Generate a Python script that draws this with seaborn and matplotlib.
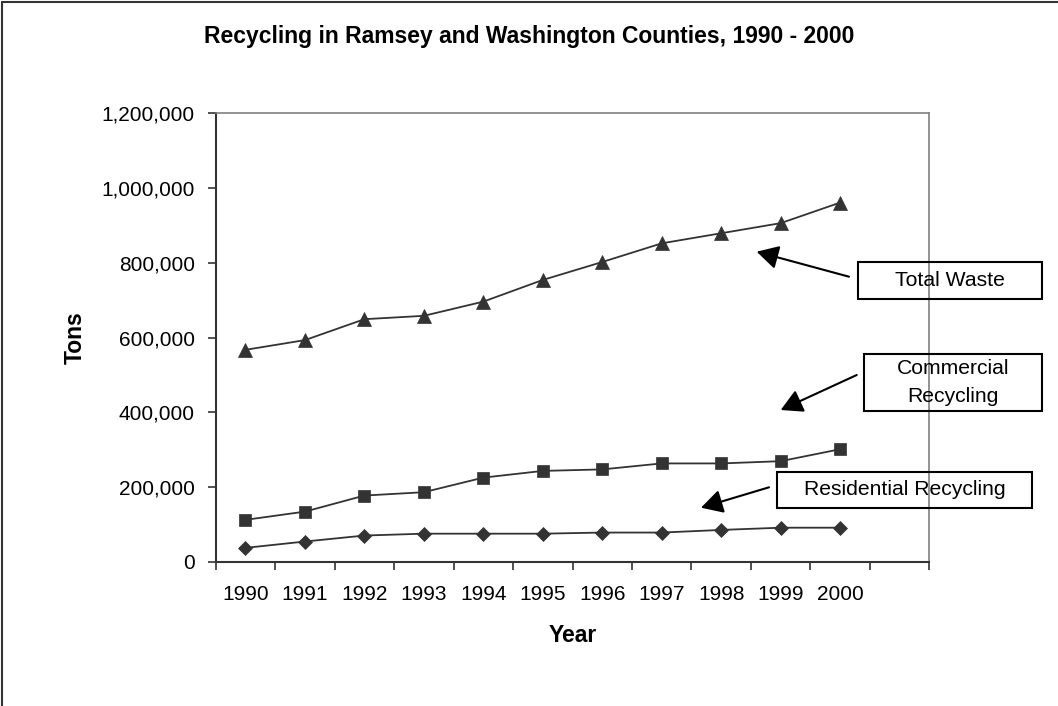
import matplotlib
matplotlib.use("Agg")
import matplotlib.pyplot as plt
import matplotlib.ticker as mticker
from matplotlib.patches import Rectangle
from matplotlib.lines import Line2D
import seaborn as sns
import pandas as pd

years = [1990, 1991, 1992, 1993, 1994, 1995, 1996, 1997, 1998, 1999, 2000]
total_waste = [567000, 593000, 649000, 658000, 696000, 754000, 802000, 852000, 879000, 906000, 961000]
commercial_recycling = [112000, 134000, 177000, 186000, 225000, 243000, 247000, 263000, 263000, 269000, 301000]
residential_recycling = [37000, 54000, 70000, 75000, 75000, 75000, 78000, 78000, 85000, 91000, 91000]
y_ticks = [0, 200000, 400000, 600000, 800000, 1000000, 1200000]

title = "Recycling in Ramsey and Washington Counties, 1990 - 2000"

sns.set_theme(style="white")
plt.rcParams["font.family"] = ["Liberation Sans", "DejaVu Sans"]
plt.rcParams["text.color"] = "black"
plt.rcParams["axes.labelcolor"] = "black"
plt.rcParams["xtick.color"] = "black"
plt.rcParams["ytick.color"] = "black"

W, H = 1058, 706
fig = plt.figure(figsize=(W / 100, H / 100), dpi=100)
fig.patch.set_facecolor("white")

def fx(x):
    return x / W

def fy(y):
    return 1 - y / H

L, R, T, B = 215.7, 929.3, 113.3, 561.7
ax = fig.add_axes([fx(L), fy(B), (R - L) / W, (B - T) / H])

df = pd.DataFrame({
    "Year": years * 3,
    "Tons": total_waste + commercial_recycling + residential_recycling,
    "Series": ["Total Waste"] * len(years) + ["Commercial Recycling"] * len(years)
              + ["Residential Recycling"] * len(years),
})

line_col = "#333333"
sns.lineplot(data=df, x="Year", y="Tons", style="Series",
             hue="Series",
             palette={"Total Waste": line_col, "Commercial Recycling": line_col,
                      "Residential Recycling": line_col},
             markers={"Total Waste": "^", "Commercial Recycling": "s",
                      "Residential Recycling": "D"},
             dashes=False, linewidth=1.3, markersize=9.5, markeredgewidth=0.5,
             markeredgecolor=line_col, legend=False, ax=ax)
for ln in ax.lines:
    if ln.get_marker() == "D":
        ln.set_markersize(7)
    elif ln.get_marker() == "s":
        ln.set_markersize(9)

ax.set_xlim(years[0] - 0.5, years[-1] + 1.5)
ax.set_ylim(y_ticks[0], y_ticks[-1])
ax.set_yticks(y_ticks)
ax.yaxis.set_major_formatter(mticker.FuncFormatter(lambda v, p: f"{v:,.0f}"))

bounds = [y - 0.5 for y in years] + [years[-1] + 0.5, years[-1] + 1.5]
ax.set_xticks(bounds)
ax.set_xticklabels([])
ax.set_xticks(years, minor=True)
ax.set_xticklabels([str(y) for y in years], minor=True)

ax.tick_params(axis="x", which="major", length=6, width=1.2, color="#333333", direction="out", bottom=True)
ax.tick_params(axis="x", which="minor", length=0, pad=17, labelsize=15, labelcolor="black", bottom=True)
ax.tick_params(axis="y", which="major", length=6, width=1.2, color="#333333", direction="out",
               pad=9, labelsize=15, labelcolor="black", left=True)

for s in ["left", "bottom"]:
    ax.spines[s].set_color("#333333")
    ax.spines[s].set_linewidth(1.5)
for s in ["top", "right"]:
    ax.spines[s].set_color("#808080")
    ax.spines[s].set_linewidth(1.2)
    ax.spines[s].set_visible(True)

ax.set_xlabel("")
ax.set_ylabel("")
ax.grid(False)

fig.text(0.5, fy(43.5), title, ha="center", va="baseline", fontsize=16.5,
         fontweight="bold", color="black")
fig.text(fx(75.7), fy(338), "Tons", rotation=90, ha="center", va="center",
         fontsize=16.5, fontweight="bold", color="black")
fig.text(fx(572.5), fy(635), "Year", ha="center", va="center",
         fontsize=16.5, fontweight="bold", color="black")

# outer chart border (top and left visible)
fig.add_artist(Line2D([fx(1.5), fx(1.5)], [fy(1.5), 0], transform=fig.transFigure, color="#333333", lw=1.5))
fig.add_artist(Line2D([fx(1.5), 1], [fy(1.5), fy(1.5)], transform=fig.transFigure, color="#333333", lw=1.5))

# annotation boxes
boxes = [
    ("Total Waste", 857.7, 261.7, 1041.7, 299.3),
    ("Commercial\nRecycling", 863.7, 354.0, 1041.7, 411.0),
    ("Residential Recycling", 777.3, 471.7, 1032.3, 507.7),
]
for txt, x0, y0, x1, y1 in boxes:
    fig.add_artist(Rectangle((fx(x0), fy(y1)), (x1 - x0) / W, (y1 - y0) / H,
                             transform=fig.transFigure, fill=False, edgecolor="black", lw=1.5))
    fig.text(fx((x0 + x1) / 2), fy((y0 + y1) / 2), txt, ha="center", va="center",
             fontsize=15.2, linespacing=1.6, color="black")

arrows = [
    ((849.0, 276.7), (756.7, 251.7)),
    ((856.7, 375.0), (780.7, 410.0)),
    ((769.0, 487.3), (701.0, 507.7)),
]
for (sx, sy), (tx, ty) in arrows:
    ax.annotate("", xy=(fx(tx), fy(ty)), xycoords="figure fraction",
                xytext=(fx(sx), fy(sy)), textcoords="figure fraction",
                arrowprops=dict(arrowstyle="-|>,head_length=0.4,head_width=0.22",
                                mutation_scale=33, lw=1.5, color="black",
                                shrinkA=0, shrinkB=0), annotation_clip=False)

fig.savefig("out.png", dpi=100, facecolor="white")
